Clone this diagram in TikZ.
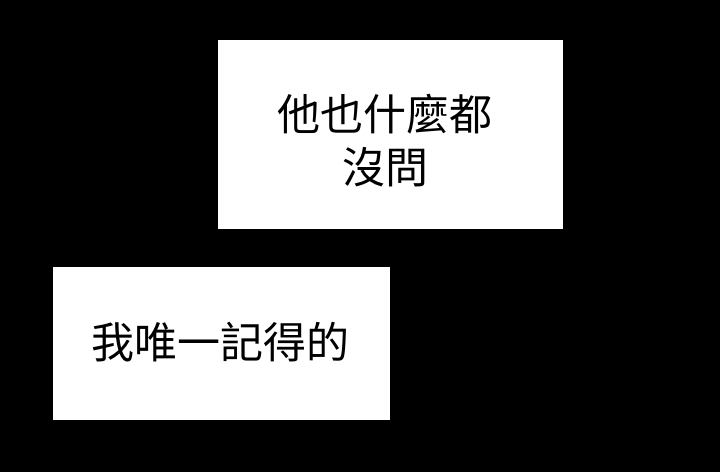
\documentclass[tikz,border=0pt]{standalone}
\usepackage{fontspec}
\newfontfamily\cjk{Noto Sans CJK TC}
\begin{document}
\begin{tikzpicture}[x=1pt,y=-1pt,
  panel/.style={fill=white,draw=none},
  txt/.style={font=\cjk\fontsize{43}{53}\selectfont,align=center,text=black,inner sep=0}]
\fill[black] (0,0) rectangle (720,472);
\useasboundingbox (0,0) rectangle (720,472);
\fill[panel] (218,40) rectangle (563,229);
\fill[panel] (53,267) rectangle (390,420);
\node[txt] (t1) at (385,141) {他也什麼都\\沒問};
\node[txt] (t2) at (220,342) {我唯一記得的};
\end{tikzpicture}
\end{document}
